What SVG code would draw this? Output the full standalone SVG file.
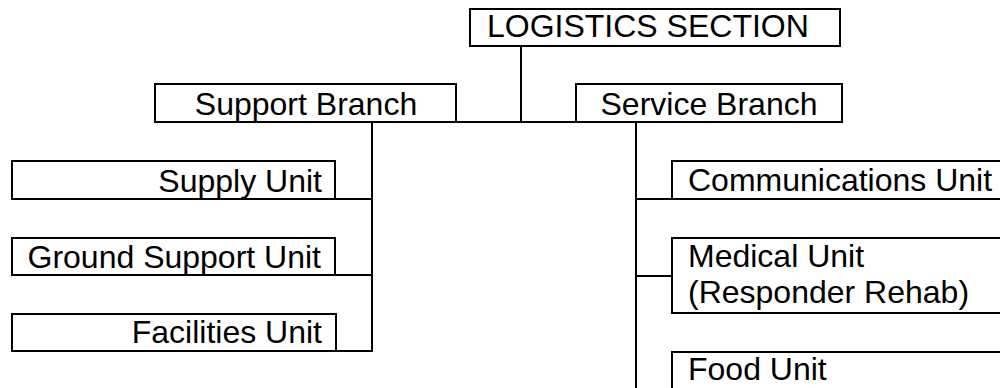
<svg xmlns="http://www.w3.org/2000/svg" width="1000" height="388" viewBox="0 0 1000 388">
  <style>
    .box { fill: #ffffff; stroke: #000000; stroke-width: 2; }
    .lbl { font-family: "Liberation Sans", Arial, sans-serif; font-size: 32px; fill: #000000; }
    .mid { text-anchor: middle; }
    .end { text-anchor: end; }
    .wire { fill: none; stroke: #000000; stroke-width: 2; }
  </style>
  <rect width="1000" height="388" fill="#ffffff"/>

  <!-- connectors -->
  <g id="connectors">
    <line class="wire" x1="521" y1="46" x2="521" y2="122"/>
    <line class="wire" x1="456" y1="122" x2="576" y2="122"/>
    <!-- support branch trunk and unit ties -->
    <line class="wire" x1="372" y1="122" x2="372" y2="352"/>
    <line class="wire" x1="335" y1="199" x2="372" y2="199"/>
    <line class="wire" x1="335" y1="275" x2="372" y2="275"/>
    <line class="wire" x1="335" y1="351" x2="373" y2="351"/>
    <!-- service branch trunk and unit ties -->
    <line class="wire" x1="636" y1="122" x2="636" y2="390"/>
    <line class="wire" x1="636" y1="199" x2="672" y2="199"/>
    <line class="wire" x1="636" y1="276" x2="672" y2="276"/>
  </g>

  <g id="logistics-section">
    <rect class="box" x="470" y="9" width="370" height="37"/>
    <text class="lbl" x="487" y="37" font-size="31.5">LOGISTICS SECTION</text>
  </g>

  <g id="support-branch">
    <rect class="box" x="155" y="84" width="301" height="38"/>
    <text class="lbl mid" x="306" y="115">Support Branch</text>
  </g>

  <g id="service-branch">
    <rect class="box" x="576" y="84" width="266" height="38"/>
    <text class="lbl mid" x="709" y="115">Service Branch</text>
  </g>

  <g id="supply-unit">
    <rect class="box" x="12" y="161" width="323" height="38"/>
    <text class="lbl end" x="322" y="192">Supply Unit</text>
  </g>

  <g id="ground-support-unit">
    <rect class="box" x="12" y="238" width="323" height="37"/>
    <text class="lbl end" x="321" y="268">Ground Support Unit</text>
  </g>

  <g id="facilities-unit">
    <rect class="box" x="12" y="314" width="324" height="37"/>
    <text class="lbl end" x="322" y="343">Facilities Unit</text>
  </g>

  <g id="communications-unit">
    <rect class="box" x="672" y="161" width="340" height="38"/>
    <text class="lbl" x="688" y="191">Communications Unit</text>
  </g>

  <g id="medical-unit">
    <rect class="box" x="672" y="238" width="340" height="75"/>
    <text class="lbl" x="688" y="267">Medical Unit</text>
    <text class="lbl" x="688" y="303">(Responder Rehab)</text>
  </g>

  <g id="food-unit">
    <rect class="box" x="672" y="352" width="340" height="60"/>
    <text class="lbl" x="688" y="380">Food Unit</text>
  </g>
</svg>
